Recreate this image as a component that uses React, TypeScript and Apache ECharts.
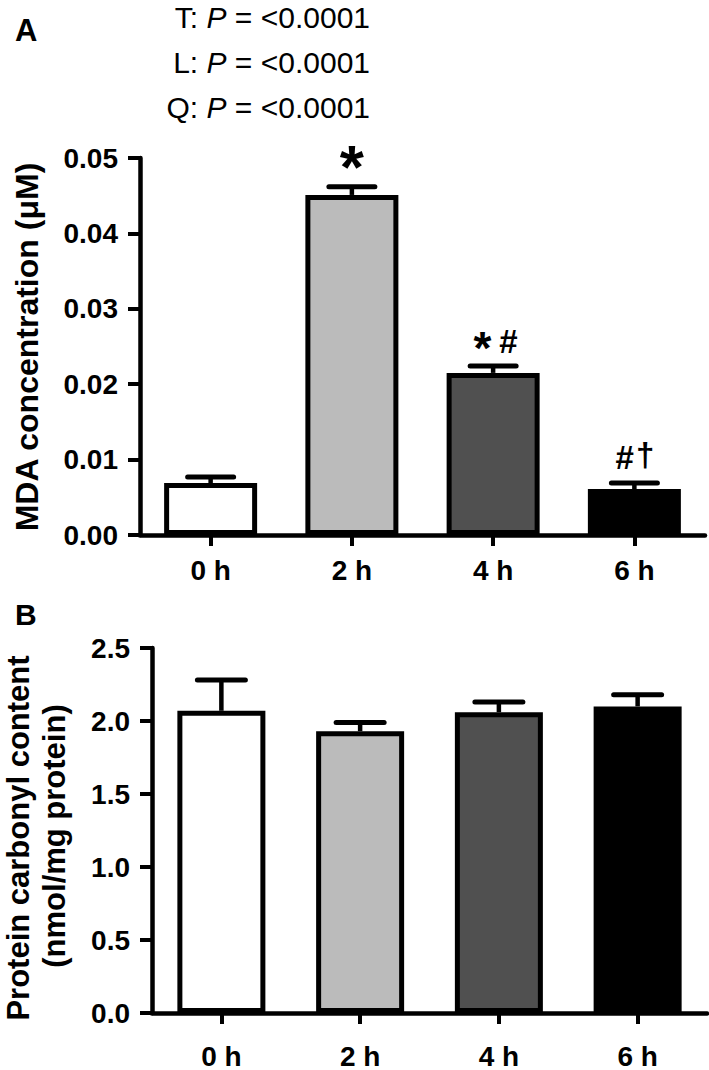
import React, { useEffect, useRef } from 'react';
import * as echarts from 'echarts';

// ---- data ----
const categories = ['0 h', '2 h', '4 h', '6 h'];
const mdaMean = [0.0069, 0.0451, 0.0215, 0.0061];
const mdaSem = [0.0008, 0.0011, 0.0009, 0.0008];
const mdaMarks = ['', '*', '*#', '#†'];
const carbonylMean = [2.07, 1.93, 2.06, 2.1];
const carbonylSem = [0.21, 0.06, 0.07, 0.08];
const carbonylMarks = ['', '', '', ''];
const mdaTicks = [0, 0.01, 0.02, 0.03, 0.04, 0.05];
const carbonylTicks = [0, 0.5, 1.0, 1.5, 2.0, 2.5];
const pTests = ['T', 'L', 'Q'];
const pValues = ['<0.0001', '<0.0001', '<0.0001'];
const mdaTitle = 'MDA concentration (μM)';
const carbonylTitle = ['Protein carbonyl content', '(nmol/mg protein)'];

// ---- styles ----
const FONT = "'Liberation Sans', Arial, Helvetica, sans-serif";
const barColors = ['#ffffff', '#bbbbbb', '#505050', '#000000'];
const pLineY = [17, 62, 107];

const glyphSpec = (ch: string, solo: boolean) => {
  if (ch === '*') return { size: solo ? 62 : 46, adv: solo ? 0.389 : 0.6, dy: solo ? -20 : -18 };
  if (ch === '#') return { size: 33, adv: 0.556, dy: -25 };
  return { size: 33, adv: 0.5, dy: -28 };
};

function makeErrorRender(marks: string[], capHalf: number) {
  return (params: any, api: any) => {
    const i = api.value(0);
    const m = api.value(1);
    const e = api.value(2);
    const base = api.coord([i, m]);
    const cap = api.coord([i, m + e]);
    const x = base[0];
    const children: any[] = [
      { type: 'line', shape: { x1: x, y1: base[1], x2: x, y2: cap[1] }, style: { stroke: '#000', lineWidth: 4.5 } },
      { type: 'line', shape: { x1: x - capHalf, y1: cap[1], x2: x + capHalf, y2: cap[1] }, style: { stroke: '#000', lineWidth: 5, lineCap: 'round' } },
    ];
    const chars = Array.from(marks[i] || '');
    if (chars.length) {
      const solo = chars.length === 1;
      const specs = chars.map((c) => glyphSpec(c, solo));
      const gap = 3;
      const widths = specs.map((s) => s.adv * s.size);
      const total = widths.reduce((a, b) => a + b, 0) + gap * (chars.length - 1);
      let cx = x - total / 2;
      chars.forEach((c, k) => {
        const s = specs[k];
        children.push({
          type: 'text',
          x: cx + widths[k] / 2,
          y: cap[1] + s.dy,
          style: { text: c, fontSize: s.size, fontWeight: 'bold', fontFamily: FONT, fill: '#000', align: 'center', verticalAlign: 'middle' },
        });
        cx += widths[k] + gap;
      });
    }
    return { type: 'group', children };
  };
}

const axisCommon = {
  axisLine: { show: true, lineStyle: { color: '#000', width: 4.5 } },
  splitLine: { show: false },
};

function xAxisFor(gridIndex: number, margin: number) {
  return {
    type: 'category',
    gridIndex,
    data: categories,
    ...axisCommon,
    axisTick: { show: true, alignWithLabel: true, length: 11, lineStyle: { color: '#000', width: 4 } },
    axisLabel: { color: '#000', fontSize: 28, fontWeight: 'bold', fontFamily: FONT, margin },
  };
}

function yAxisFor(gridIndex: number, ticks: number[], digits: number) {
  return {
    type: 'value',
    gridIndex,
    min: ticks[0],
    max: ticks[ticks.length - 1],
    interval: ticks[1] - ticks[0],
    ...axisCommon,
    axisTick: { show: true, length: 12, lineStyle: { color: '#000', width: 4 } },
    axisLabel: { color: '#000', fontSize: 28, fontWeight: 'bold', fontFamily: FONT, margin: 22, formatter: (v: number) => v.toFixed(digits) },
  };
}

export default function App() {
  const ref = useRef<HTMLDivElement>(null);
  useEffect(() => {
    if (!ref.current) return;
    const chart = echarts.init(ref.current, undefined, { renderer: 'svg' });
    const textBase = { fill: '#000', fontFamily: FONT };
    const option: any = {
      animation: false,
      backgroundColor: '#ffffff',
      grid: [
        { left: 140, top: 158, width: 565, height: 377 },
        { left: 152, top: 648, width: 555, height: 370 },
      ],
      xAxis: [xAxisFor(0, 21), xAxisFor(1, 29)],
      yAxis: [yAxisFor(0, mdaTicks, 2), yAxisFor(1, carbonylTicks, 1)],
      series: [
        {
          type: 'bar', xAxisIndex: 0, yAxisIndex: 0, barWidth: 93,
          data: mdaMean.map((v, i) => ({ value: v, itemStyle: { color: barColors[i] } })),
          itemStyle: { borderColor: '#000', borderWidth: 5 },
        },
        {
          type: 'custom', xAxisIndex: 0, yAxisIndex: 0, z: 5,
          data: mdaMean.map((v, i) => [i, v, mdaSem[i]]),
          encode: { x: 0, y: 1 },
          renderItem: makeErrorRender(mdaMarks, 23),
        },
        {
          type: 'bar', xAxisIndex: 1, yAxisIndex: 1, barWidth: 88,
          data: carbonylMean.map((v, i) => ({ value: v, itemStyle: { color: barColors[i] } })),
          itemStyle: { borderColor: '#000', borderWidth: 5 },
        },
        {
          type: 'custom', xAxisIndex: 1, yAxisIndex: 1, z: 5,
          data: carbonylMean.map((v, i) => [i, v, carbonylSem[i]]),
          encode: { x: 0, y: 1 },
          renderItem: makeErrorRender(carbonylMarks, 24),
        },
      ],
      graphic: [
        { type: 'text', x: 15, y: 30, style: { ...textBase, text: 'A', fontSize: 31, fontWeight: 'bold', align: 'left', verticalAlign: 'middle' } },
        { type: 'text', x: 15, y: 614, style: { ...textBase, text: 'B', fontSize: 30, fontWeight: 'bold', align: 'left', verticalAlign: 'middle' } },
        ...pTests.map((t, k) => ({
          type: 'text', x: 370, y: pLineY[k],
          style: {
            ...textBase,
            text: `{n|${t}: }{i|P}{n| = ${pValues[k]}}`,
            fontSize: 30,
            lineHeight: 30,
            align: 'right', verticalAlign: 'middle',
            rich: {
              n: { fontSize: 30, lineHeight: 30, fontFamily: FONT, fill: '#000' },
              i: { fontSize: 30, lineHeight: 30, fontFamily: FONT, fill: '#000', fontStyle: 'italic' },
            },
          },
        })),
        { type: 'text', x: 27, y: 347, rotation: Math.PI / 2, style: { ...textBase, text: mdaTitle, fontSize: 32, fontWeight: 'bold', align: 'center', verticalAlign: 'middle' } },
        { type: 'text', x: 18, y: 838, rotation: Math.PI / 2, style: { ...textBase, text: carbonylTitle[0], fontSize: 31, fontWeight: 'bold', align: 'center', verticalAlign: 'middle' } },
        { type: 'text', x: 54, y: 836, rotation: Math.PI / 2, style: { ...textBase, text: carbonylTitle[1], fontSize: 31, fontWeight: 'bold', align: 'center', verticalAlign: 'middle' } },
      ],
    };
    chart.setOption(option);
    return () => chart.dispose();
  }, []);
  return <div ref={ref} style={{ position: 'absolute', left: 0, top: 0, width: 709, height: 1070 }} />;
}
